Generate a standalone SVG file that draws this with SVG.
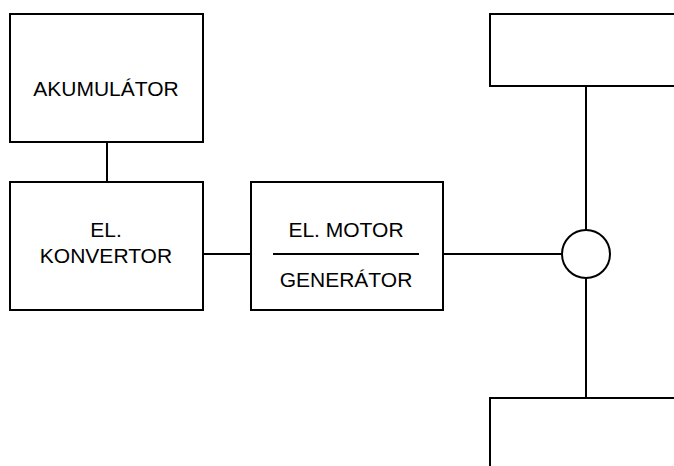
<svg xmlns="http://www.w3.org/2000/svg" width="674" height="466" viewBox="0 0 674 466">
  <style>
    .box { fill: #ffffff; stroke: #000000; stroke-width: 2; }
    .wire { fill: none; stroke: #000000; stroke-width: 2; }
    .lbl { font-family: "Liberation Sans", Arial, sans-serif; font-size: 21px; fill: #000000; text-anchor: middle; }
  </style>
  <rect width="674" height="466" fill="#ffffff"/>
  <g id="connectors">
    <line class="wire" x1="107" y1="142" x2="107" y2="182"/>
    <line class="wire" x1="203" y1="254" x2="251" y2="254"/>
    <line class="wire" x1="442" y1="254" x2="562" y2="254"/>
    <line class="wire" x1="586" y1="86" x2="586" y2="230"/>
    <line class="wire" x1="586" y1="278" x2="586" y2="398"/>
  </g>
  <g id="akumulator">
    <rect class="box" x="10" y="14" width="193" height="128"/>
    <text class="lbl" x="106" y="96">AKUMULÁTOR</text>
  </g>
  <g id="konvertor">
    <rect class="box" x="10" y="182" width="193" height="128"/>
    <text class="lbl" x="106" y="237">EL.</text>
    <text class="lbl" x="106" y="263">KONVERTOR</text>
  </g>
  <g id="motor">
    <rect class="box" x="251" y="182" width="192" height="128"/>
    <text class="lbl" x="346" y="237">EL. MOTOR</text>
    <line class="wire" x1="273" y1="254" x2="419" y2="254"/>
    <text class="lbl" x="346" y="287">GENERÁTOR</text>
  </g>
  <g id="wheel-top">
    <rect class="box" x="490" y="14" width="200" height="72"/>
  </g>
  <g id="junction">
    <circle class="box" cx="586" cy="254" r="24"/>
  </g>
  <g id="wheel-bottom">
    <rect class="box" x="490" y="398" width="200" height="80"/>
  </g>
</svg>
